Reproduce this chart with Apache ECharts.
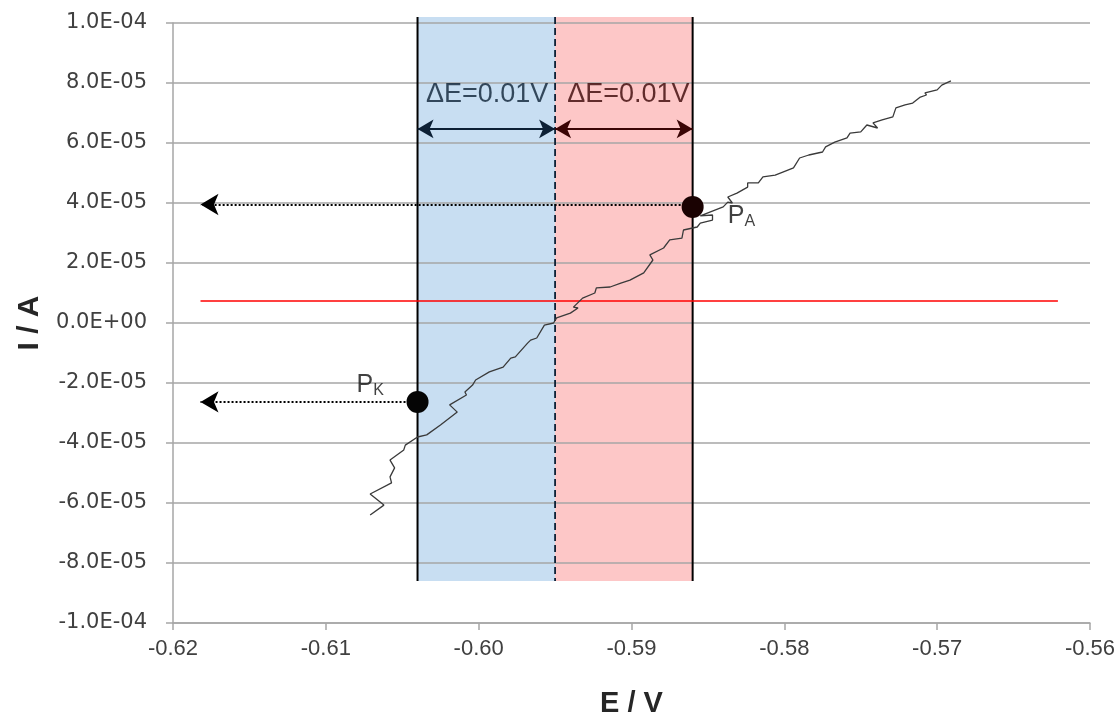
<!DOCTYPE html>
<html>
<head>
<meta charset="utf-8">
<script src="https://cdn.jsdelivr.net/npm/echarts@6/dist/echarts.min.js"></script>
<style>html,body{margin:0;padding:0;background:#fff}#c{width:1120px;height:715px}</style>
</head>
<body>
<div id="c"></div>
<script>
// Potential E / V
const E = [-0.6071,-0.6062,-0.6071,-0.6057,-0.6058,-0.6055,-0.6058,-0.6049,-0.6048,-0.6040,
  -0.6034,-0.6025,-0.6014,-0.6019,-0.6008,-0.6009,-0.6004,-0.6002,-0.5993,-0.5984,
  -0.5979,-0.5976,-0.5968,-0.5966,-0.5962,-0.5957,-0.5951,-0.5949,-0.5940,-0.5935,
  -0.5938,-0.5932,-0.5924,-0.5923,-0.5914,-0.5907,-0.5901,-0.5892,-0.5886,-0.5888,
  -0.5879,-0.5875,-0.5867,-0.5866,-0.5857,-0.5855,-0.5847,-0.5847,-0.5855,-0.5845,
  -0.5840,-0.5837,-0.5834,-0.5837,-0.5831,-0.5824,-0.5824,-0.5817,-0.5814,-0.5806,
  -0.5801,-0.5794,-0.5790,-0.5784,-0.5775,-0.5773,-0.5767,-0.5759,-0.5757,-0.5750,
  -0.5746,-0.5739,-0.5742,-0.5736,-0.5729,-0.5727,-0.5721,-0.5716,-0.5711,-0.5707,
  -0.5708,-0.5700,-0.5697,-0.5691];
// Current I / A
const I = [-6.40e-5,-6.07e-5,-5.70e-5,-5.33e-5,-5.13e-5,-4.83e-5,-4.57e-5,-4.23e-5,-4.07e-5,-3.80e-5,
  -3.73e-5,-3.40e-5,-2.97e-5,-2.73e-5,-2.40e-5,-2.30e-5,-2.07e-5,-1.90e-5,-1.63e-5,-1.47e-5,
  -1.17e-5,-1.13e-5,-6.7e-6,-5.7e-6,-5.0e-6,-7e-7,0,1.7e-6,3.3e-6,5.0e-6,
  5.3e-6,8.3e-6,1.00e-5,1.17e-5,1.20e-5,1.33e-5,1.43e-5,1.67e-5,2.10e-5,2.27e-5,
  2.50e-5,2.77e-5,2.83e-5,3.10e-5,3.20e-5,3.33e-5,3.43e-5,3.60e-5,3.57e-5,3.77e-5,
  3.87e-5,4.03e-5,4.00e-5,4.20e-5,4.33e-5,4.53e-5,4.67e-5,4.67e-5,4.87e-5,4.93e-5,
  5.03e-5,5.17e-5,5.50e-5,5.60e-5,5.70e-5,5.87e-5,6.03e-5,6.17e-5,6.33e-5,6.37e-5,
  6.60e-5,6.50e-5,6.67e-5,6.77e-5,6.87e-5,7.17e-5,7.27e-5,7.33e-5,7.53e-5,7.60e-5,
  7.67e-5,7.77e-5,7.93e-5,8.07e-5];

// Axis ticks
const xTicks = [-0.62,-0.61,-0.60,-0.59,-0.58,-0.57,-0.56];
const yTicks = [-1e-4,-8e-5,-6e-5,-4e-5,-2e-5,0,2e-5,4e-5,6e-5,8e-5,1e-4];

// Annotations
const E_K = -0.604, E_MID = -0.595, E_A = -0.586;   // potential bounds
const bandTop = 1.02e-4, bandBottom = -8.6e-5;
const bandEdges = [[E_K, E_MID], [E_MID, E_A]];
const bandLines = [E_K, E_MID, E_A];
const PA = [-0.586, 3.87e-5];
const PK = [-0.604, -2.63e-5];
const refI = 7.5e-6;             // red horizontal line
const refLineE = [-0.6182, -0.5621];
const arrowEndE = -0.6182;
const arrowA_I = 3.95e-5, arrowK_I = -2.63e-5;
const dEArrowI = 6.47e-5;
const dELabel = 'ΔE=0.01V';
const dELabelPos = [[-0.59945, 7.62e-5], [-0.5902, 7.62e-5]];
const PKLabelPos = [-0.6071, -2.07e-5];
const PALabelPos = [-0.5828, 3.55e-5];

const bandColors = ['#c8def2', '#fdc7c7'];
const lineStyles = [
  { stroke: '#000', lineWidth: 2 },
  { stroke: '#0d2035', lineWidth: 1.8, lineDash: [7, 4] },
  { stroke: '#000', lineWidth: 2 }
];

function fmtY(v) {
  if (Math.abs(v) < 1e-12) return '0.0E+00';
  let s = v.toExponential(1);
  let [m, ex] = s.split('e');
  let sign = ex[0] === '-' ? '-' : '+';
  let d = ex.replace(/[+-]/, '');
  if (d.length < 2) d = '0' + d;
  return m + 'E' + sign + d;
}

const curve = E.map((e, k) => [e, I[k]]);

const chart = echarts.init(document.getElementById('c'));
chart.setOption({
  animation: false,
  backgroundColor: '#fff',
  grid: { left: 173, right: 30, top: 23, bottom: 92, containLabel: false, outerBoundsMode: 'none' },
  xAxis: {
    type: 'value', min: xTicks[0], max: xTicks[xTicks.length - 1], interval: 0.01,
    name: 'E / V', nameLocation: 'middle', nameGap: 66,
    nameTextStyle: { fontFamily: 'Liberation Sans Narrow, Liberation Sans', fontWeight: 'bold', fontSize: 29, color: '#262626' },
    axisLine: { show: true, onZero: false, lineStyle: { color: '#a6a6a6', width: 1.5 } },
    axisTick: { show: true, length: 7, lineStyle: { color: '#a6a6a6', width: 1.5 } },
    axisLabel: { margin: 15, fontSize: 22, color: '#404040', fontFamily: 'Liberation Sans Narrow, Liberation Sans',
      formatter: v => v.toFixed(2) },
    splitLine: { show: false }
  },
  yAxis: {
    type: 'value', min: yTicks[0], max: yTicks[yTicks.length - 1], interval: 2e-5,
    name: 'I / A', nameLocation: 'middle', nameGap: 128, nameRotate: 90,
    nameTextStyle: { fontFamily: 'Liberation Sans', fontWeight: 'bold', fontSize: 30, color: '#262626' },
    axisLine: { show: true, onZero: false, lineStyle: { color: '#a6a6a6', width: 1.5 } },
    axisTick: { show: true, length: 7, lineStyle: { color: '#a6a6a6', width: 1.5 } },
    axisLabel: { margin: 26, fontSize: 21, color: '#404040', fontFamily: 'DejaVu Sans', formatter: fmtY },
    splitLine: { show: true, lineStyle: { color: '#a6a6a6', width: 1.5 } }
  },
  series: [
    {
      type: 'custom', z: -1, silent: true, clip: false,
      data: bandEdges.map((b, k) => [b[0], b[1], k]),
      renderItem: function (params, api) {
        const p1 = api.coord([api.value(0), bandTop]);
        const p2 = api.coord([api.value(1), bandBottom]);
        return { type: 'rect', shape: { x: p1[0], y: p1[1], width: p2[0] - p1[0], height: p2[1] - p1[1] },
          style: { fill: bandColors[api.value(2)] } };
      }
    },
    {
      type: 'custom', z: 3, silent: true, clip: false,
      data: bandLines.map((e, k) => [e, k]),
      renderItem: function (params, api) {
        const p1 = api.coord([api.value(0), bandTop]);
        const p2 = api.coord([api.value(0), bandBottom]);
        return { type: 'line', shape: { x1: p1[0], y1: p1[1], x2: p2[0], y2: p2[1] },
          style: Object.assign({ fill: null }, lineStyles[api.value(1)]) };
      }
    },
    {
      type: 'line', data: [], z: 3, silent: true,
      markLine: {
        silent: true, symbol: ['none', 'none'], animation: false,
        label: { show: false },
        lineStyle: { color: '#ff0000', width: 1.6, type: 'solid' },
        data: [ [{ coord: [refLineE[0], refI] }, { coord: [refLineE[1], refI] }] ]
      }
    },
    {
      type: 'line', data: [], z: 4, silent: true,
      markLine: {
        silent: true, symbol: ['arrow', 'arrow'], symbolSize: [14, 16], animation: false,
        label: { show: false },
        data: [
          [{ coord: [E_K, dEArrowI], lineStyle: { color: '#0d2035', width: 2.2, type: 'solid' }, itemStyle: { color: '#0d2035' } }, { coord: [E_MID, dEArrowI] }],
          [{ coord: [E_MID, dEArrowI], lineStyle: { color: '#3a0505', width: 2.2, type: 'solid' }, itemStyle: { color: '#3a0505' } }, { coord: [E_A, dEArrowI] }]
        ]
      }
    },
    {
      type: 'line', data: [], z: 4, silent: true,
      markLine: {
        silent: true, symbol: ['none', 'arrow'], symbolSize: [16, 18], animation: false,
        label: { show: false },
        lineStyle: { color: '#000', width: 2, type: [2, 2] },
        itemStyle: { color: '#000' },
        data: [
          [{ coord: [PA[0], arrowA_I] }, { coord: [arrowEndE, arrowA_I] }],
          [{ coord: [PK[0], arrowK_I] }, { coord: [arrowEndE, arrowK_I] }]
        ]
      }
    },
    {
      type: 'line', data: curve, z: 5, showSymbol: false, symbol: 'none', clip: false,
      lineStyle: { color: '#3a3a3a', width: 1.3 }
    },
    {
      type: 'scatter', z: 6, symbolSize: 22,
      itemStyle: { opacity: 1 },
      data: [
        { value: PA, itemStyle: { color: '#1a0202', opacity: 1 } },
        { value: PK, itemStyle: { color: '#050505', opacity: 1 } }
      ]
    },
    {
      type: 'scatter', z: 7, symbolSize: 0, silent: true,
      label: { show: true, position: 'inside', fontFamily: 'Liberation Sans', fontSize: 27 },
      data: [
        { value: dELabelPos[0], label: { formatter: dELabel, color: '#0d2035' } },
        { value: dELabelPos[1], label: { formatter: dELabel, color: '#3a0505' } },
        { value: PKLabelPos, label: { formatter: '{p|P}{s|K}', rich: { p: { fontSize: 25, color: '#111', fontFamily: 'Liberation Sans' }, s: { fontSize: 16, color: '#111', padding: [10, 0, 0, 0], fontFamily: 'Liberation Sans' } } } },
        { value: PALabelPos, label: { formatter: '{p|P}{s|A}', rich: { p: { fontSize: 25, color: '#111', fontFamily: 'Liberation Sans' }, s: { fontSize: 16, color: '#111', padding: [10, 0, 0, 0], fontFamily: 'Liberation Sans' } } } }
      ]
    }
  ]
});
</script>
</body>
</html>
